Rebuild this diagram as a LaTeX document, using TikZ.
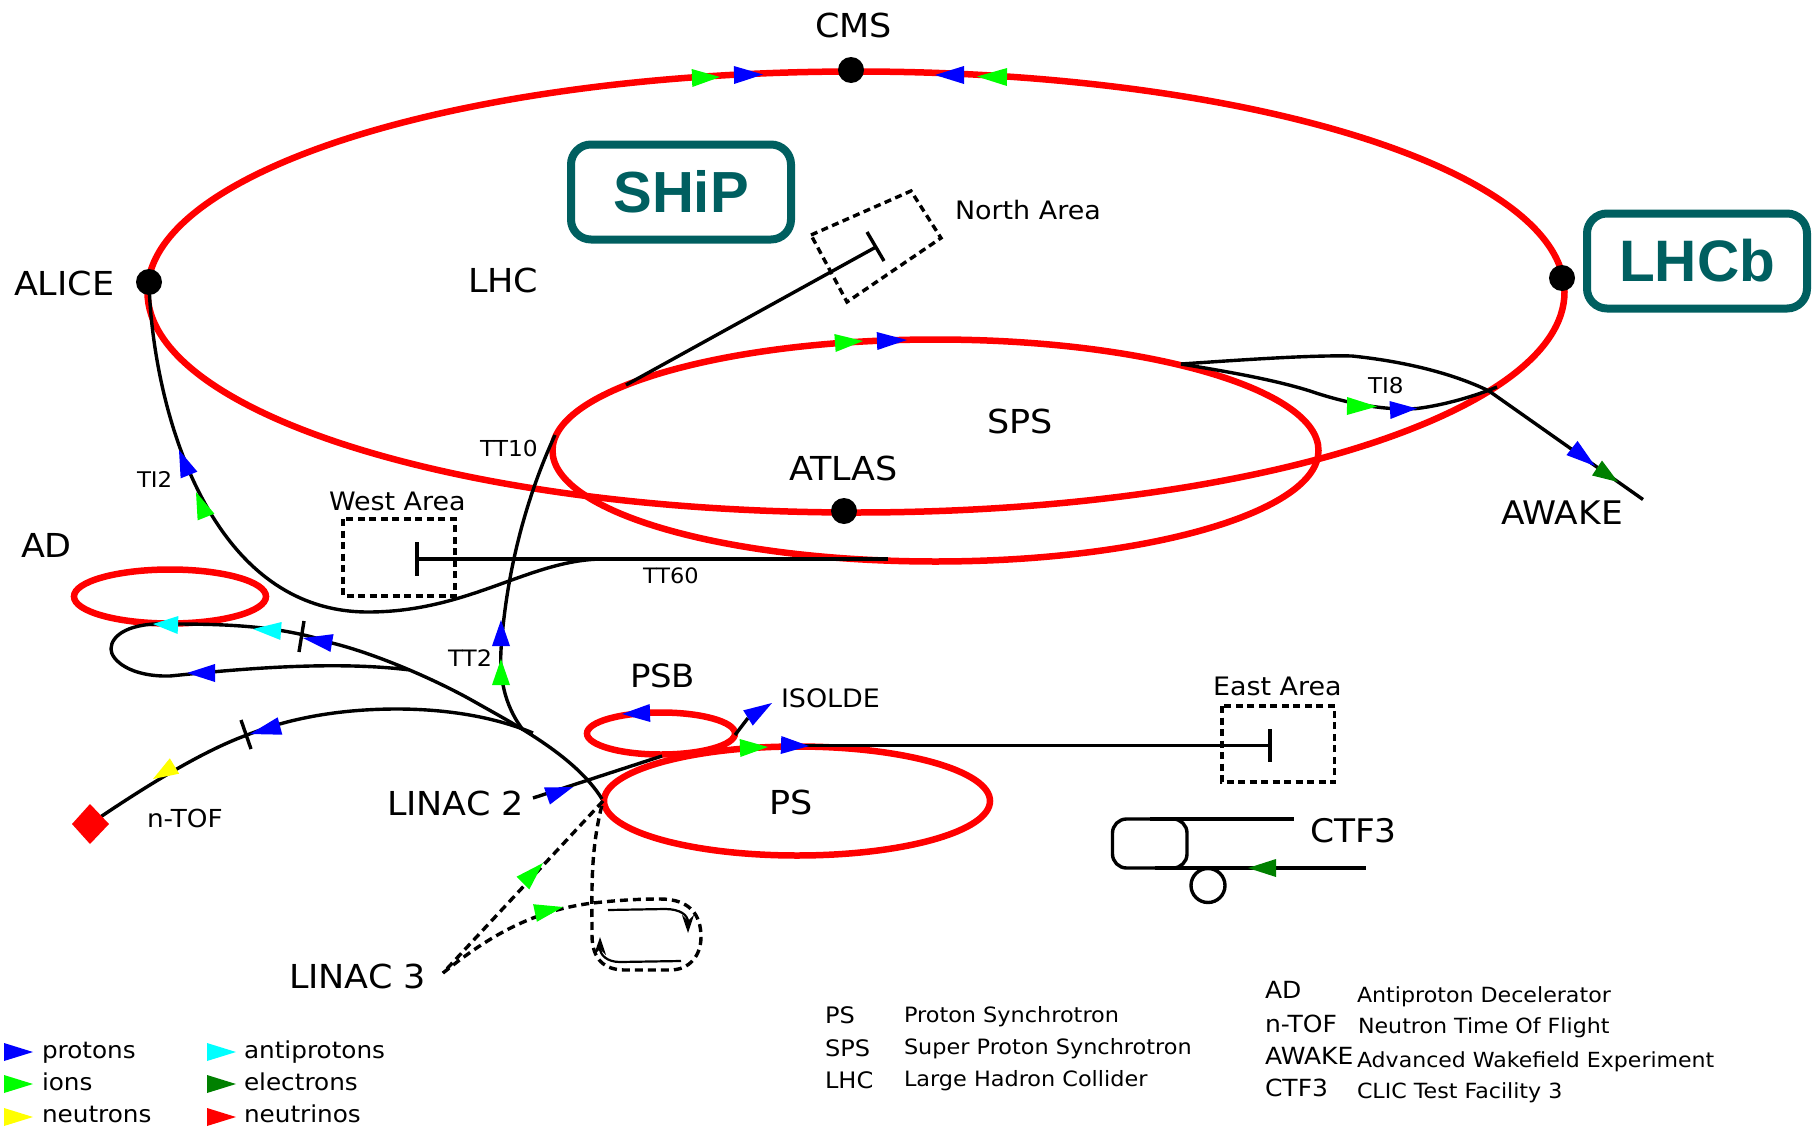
\documentclass[tikz,border=0pt]{standalone}
\usepackage{fontspec}
\setmainfont[FakeStretch=1.06]{DejaVu Sans}
\newfontfamily\boxfont{Liberation Sans}
\usetikzlibrary{calc,arrows.meta}
\definecolor{teal1}{RGB}{0,95,96}
\definecolor{dgreen}{RGB}{0,128,0}
\definecolor{pblue}{RGB}{0,0,255}
\definecolor{pgreen}{RGB}{0,255,0}
\definecolor{pcyan}{RGB}{0,255,255}
\definecolor{pyellow}{RGB}{255,255,0}
\definecolor{pred}{RGB}{255,0,0}
\tikzset{
  ring/.style={draw=pred,line width=6.5pt},
  beam/.style={draw=black,line width=3.4pt},
  beamthin/.style={draw=black,line width=2.2pt},
  dashbeam/.style={draw=black,line width=3.4pt,dash pattern=on 8pt off 5pt},
  area/.style={draw=black,line width=3.4pt,dash pattern=on 7pt off 4.5pt},
  ip/.style={fill=black},
  expbox/.style={draw=teal1,line width=8pt,rounded corners=20pt},
  txt/.style={anchor=base west,inner sep=0pt,outer sep=0pt,text=black},
}
\newcommand\tri[5]{\fill[#1] ($(#2,#3)!9pt!90:(#4,#5)$) -- (#4,#5) -- ($(#2,#3)!9pt!-90:(#4,#5)$) -- cycle;}
\newcommand\lab[5]{\node[txt] (#1) at (#2,#3) {\fontsize{#4}{#4}\selectfont #5};}
\begin{document}
\begin{tikzpicture}[x=1pt,y=-1pt]
\useasboundingbox (0,0) rectangle (1813,1127);
\fill[white] (0,0) rectangle (1813,1127);
% rings
\draw[ring] (856,292) ellipse [x radius=708.5pt,y radius=220.5pt];
\draw[ring] (935.5,450.5) ellipse [x radius=383pt,y radius=111pt];
\draw[ring] (797,801) ellipse [x radius=193pt,y radius=54.5pt];
\draw[ring] (661,733.5) ellipse [x radius=74pt,y radius=21pt];
\draw[ring] (170,596.5) ellipse [x radius=96pt,y radius=27pt];
% interaction points
\coordinate (cms) at (851,70);
\coordinate (alice) at (149,282);
\coordinate (atlas) at (844,511);
\coordinate (lhcb) at (1562,278);
\fill[ip] (cms) circle (13pt);
\fill[ip] (alice) circle (13pt);
\fill[ip] (atlas) circle (13pt);
\fill[ip] (lhcb) circle (13pt);
% TI2
\coordinate (ti2mid) at (604,559);
\draw[beam] (alice) .. controls (152,400) and (205,612) .. (368,612)
  .. controls (470,612) and (530,559) .. (ti2mid);
% TT60 + West Area
\coordinate (wtee) at (417,559);
\coordinate (tt60end) at (888,559);
\draw[beam] (wtee) -- (tt60end);
\draw[beam] (417,542) -- (417,576);
\draw[area] (343,519) rectangle (455,596);
% TT10 / TT2
\coordinate (junc) at (523,730);
\draw[beam] (555,435) .. controls (525,500) and (506,575) .. (501,650)
  .. controls (499,685) and (508,710) .. (junc);
% North Area
\coordinate (ntee) at (876,247);
\draw[beam] (626,385) -- (ntee);
\draw[beam] (867,232) -- (884,261);
\draw[area] (811,235) -- (911,191) -- (941,238) -- (847,302) -- cycle;
% main transfer line and AD loop
\coordinate (psleft) at (602,799);
\coordinate (adj) at (410,670);
\draw[beam] (psleft) .. controls (575,755) and (510,722) .. (475,702)
  .. controls (440,682) and (380,655) .. (332,643)
  .. controls (280,625) and (220,624) .. (170,624)
  .. controls (130,622) and (111,635) .. (111,649)
  .. controls (111,660) and (130,677) .. (170,676)
  .. controls (230,670) and (330,660) .. (adj);
\draw[beam] (304,621) -- (299,652);
% n-TOF
\coordinate (ntof) at (90,824);
\draw[beam] (533,733) .. controls (490,715) and (440,709) .. (397,709)
  .. controls (340,709) and (290,718) .. (247,735)
  .. controls (200,752) and (140,790) .. (ntof);
\draw[beam] (241,720) -- (251,749);
\fill[pred] (72,824) -- (90,804) -- (109,824) -- (90,844) -- cycle;
% LINAC 2, ISOLDE, East Area
\coordinate (linacb) at (533,798);
\coordinate (linace) at (662,756);
\draw[beam] (linacb) -- (linace);
\draw[beam] (735,735) -- (748,718);
\coordinate (etee) at (1270,745.5);
\draw[beam] (800,745.5) -- (etee);
\draw[beam] (1270,729) -- (1270,762);
\draw[area] (1222,706) rectangle (1334.5,782);
% LINAC 3
\coordinate (lin3) at (443,973);
\draw[dashbeam] (603,801) -- (lin3);
\draw[dashbeam] (lin3) .. controls (490,935) and (535,910) .. (593,903)
  .. controls (620,900) and (640,899) .. (660,899)
  .. controls (690,899) and (701,915) .. (701,937)
  .. controls (701,955) and (690,970) .. (670,970)
  -- (625,970)
  .. controls (605,970) and (592,960) .. (592,935)
  .. controls (592,890) and (590,850) .. (603,801);
\draw[beamthin,-{Stealth[length=18pt,width=12pt,inset=6pt]}] (608,910) -- (665,909) .. controls (680,909) and (688,915) .. (688,933);
\draw[beamthin,-{Stealth[length=18pt,width=12pt,inset=6pt]}] (681,961) -- (620,962) .. controls (607,962) and (600,955) .. (600,937);
% TI8 and AWAKE
\coordinate (ti8s) at (1181,364);
\coordinate (awk) at (1643,499.5);
\draw[beam] (ti8s) .. controls (1240,360) and (1310,355) .. (1352,356)
  .. controls (1400,361) and (1450,372) .. (1489,391) -- (awk);
\draw[beam] (ti8s) .. controls (1230,372) and (1275,380) .. (1310,391)
  .. controls (1345,403) and (1385,411) .. (1417,408.5)
  .. controls (1445,405) and (1475,396) .. (1497,387);
% CTF3
\draw[beam,rounded corners=14pt] (1112.5,819) rectangle (1187,868);
\draw[beam] (1150,819) -- (1293.5,819);
\draw[beam] (1155,868) -- (1366,868);
\draw[beam] (1208,885.5) circle (17pt);
% arrowheads
\tri{pgreen}{692}{78}{720}{77}
\tri{pblue}{734}{75}{763}{74.5}
\tri{pblue}{964}{75}{935}{75}
\tri{pgreen}{1007}{77}{977}{76.5}
\tri{pgreen}{835}{343}{863}{341}
\tri{pblue}{877}{341}{907}{340}
\tri{pgreen}{1347}{406}{1377}{406.5}
\tri{pblue}{1390}{410}{1417}{408.5}
\tri{pblue}{1572}{448}{1595}{466}
\tri{dgreen}{1597}{468}{1618}{482}
\tri{pblue}{189}{475}{179}{450}
\tri{pgreen}{206}{517}{196}{492}
\tri{pcyan}{178}{625}{153}{624}
\tri{pcyan}{281}{631}{253}{629}
\tri{pblue}{332}{643}{303}{638}
\tri{pblue}{215}{673}{187}{673}
\tri{pblue}{501}{646}{501}{620}
\tri{pgreen}{501}{685}{501}{659}
\tri{pblue}{280}{726}{250}{734}
\tri{pyellow}{174.5}{766}{153}{779}
\tri{pblue}{650}{713}{622}{714}
\tri{pblue}{748}{718}{772}{703}
\tri{pgreen}{740}{748}{768}{747}
\tri{pblue}{781}{745}{809}{746}
\tri{pblue}{547}{796}{573}{787}
\tri{pgreen}{523}{883}{543}{863}
\tri{pgreen}{535}{913}{563}{907}
\tri{dgreen}{1276}{868}{1248}{868}
% legend arrowheads
\tri{pblue}{4}{1052}{33}{1052}
\tri{pgreen}{4}{1084}{33}{1084}
\tri{pyellow}{4}{1117}{33}{1117}
\tri{pcyan}{207}{1052}{236}{1052}
\tri{dgreen}{207}{1084}{236}{1084}
\tri{pred}{207}{1117}{236}{1117}
% experiment boxes
\node[expbox,minimum width=220pt,minimum height=95pt] (ship) at (681,192) {};
\node[expbox,minimum width=220pt,minimum height=95pt] (lhcbx) at (1697,261) {};
\node[text=teal1,inner sep=0pt] at (ship.center) {\boxfont\bfseries\fontsize{58}{58}\selectfont SHiP};
\node[text=teal1,inner sep=0pt] at (lhcbx.center) {\boxfont\bfseries\fontsize{58.5}{58.5}\selectfont LHCb};
% labels
\lab{tcms}{815}{37}{33}{CMS}
\lab{talice}{14}{295}{33}{ALICE}
\lab{tlhc}{468}{292}{33}{LHC}
\lab{tatlas}{789}{480}{33}{ATLAS}
\lab{tsps}{987}{433}{33}{SPS}
\lab{tawake}{1501}{524}{32.5}{AWAKE}
\lab{tad}{21}{557}{33}{AD}
\lab{tpsb}{630}{687}{32}{PSB}
\lab{tps}{769}{814}{33}{PS}
\lab{tlinb}{387}{815}{33}{LINAC 2}
\lab{tlinc}{289}{988}{33}{LINAC 3}
\lab{tctf}{1310}{842}{32.5}{CTF3}
\lab{tnorth}{955}{219}{25.4}{North Area}
\lab{twest}{329}{510}{25.4}{West Area}
\lab{teast}{1213}{695.5}{25.4}{East Area}
\lab{tiso}{781}{707}{25.4}{ISOLDE}
\lab{tntof}{147}{827}{24.8}{n-TOF}
\lab{ttten}{480}{456}{22}{TT10}
\lab{ttsix}{643}{583}{21.2}{TT60}
\lab{tttwo}{448}{666}{22.6}{TT2}
\lab{ttitwo}{137}{487}{21.6}{TI2}
\lab{ttieight}{1368}{393}{21.8}{TI8}
% legend text
\lab{lp}{42}{1058}{23.3}{protons}
\lab{li}{42}{1090}{23.3}{ions}
\lab{ln}{42}{1122}{23.3}{neutrons}
\lab{la}{244}{1058}{23.3}{antiprotons}
\lab{le}{244}{1090}{23.3}{electrons}
\lab{lv}{244}{1122}{23.3}{neutrinos}
\lab{k1}{825}{1023}{22.7}{PS}
\lab{k2}{825}{1056}{22.7}{SPS}
\lab{k3}{825}{1088}{22.7}{LHC}
\lab{v1}{904}{1022}{21.1}{Proton Synchrotron}
\lab{v2}{904}{1054}{21.1}{Super Proton Synchrotron}
\lab{v3}{904}{1086}{21.1}{Large Hadron Collider}
\lab{k4}{1265}{998}{23.6}{AD}
\lab{k5}{1265}{1032}{23.6}{n-TOF}
\lab{k6}{1265}{1064}{23.6}{AWAKE}
\lab{k7}{1265}{1096}{23.6}{CTF3}
\lab{v4}{1357}{1002}{20.9}{Antiproton Decelerator}
\lab{v5}{1358}{1033}{20.9}{Neutron Time Of Flight}
\lab{v6}{1357}{1067}{20.8}{Advanced Wakefield Experiment}
\lab{v7}{1357}{1098}{20.9}{CLIC Test Facility 3}
\end{tikzpicture}
\end{document}
